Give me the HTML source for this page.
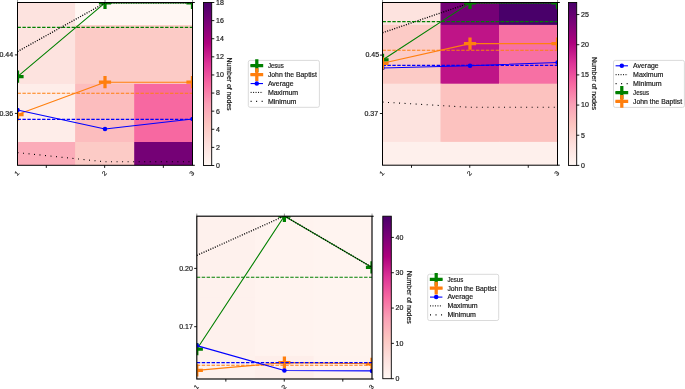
<!DOCTYPE html>
<html><head><meta charset="utf-8"><style>
html,body{margin:0;padding:0;background:#fff;overflow:hidden;}
svg{display:block;will-change:transform;}
text{font-family:"Liberation Sans",sans-serif;stroke:#1a1a1a;stroke-width:0.18px;}
</style></head><body>
<svg width="685" height="389" viewBox="0 0 685 389">
<rect width="685" height="389" fill="#fff"/>
<clipPath id="c0"><rect x="17.50" y="2.50" width="175.00" height="162.80"/></clipPath>
<g clip-path="url(#c0)"><rect x="17.50" y="2.50" width="58.60" height="23.60" fill="#fde3df"/><rect x="75.10" y="2.50" width="60.10" height="23.60" fill="#fff7f3"/><rect x="134.20" y="2.50" width="59.30" height="23.60" fill="#fff7f3"/><rect x="17.50" y="25.10" width="58.60" height="59.80" fill="#fde3df"/><rect x="75.10" y="25.10" width="60.10" height="59.80" fill="#fccbc6"/><rect x="134.20" y="25.10" width="59.30" height="59.80" fill="#fccbc6"/><rect x="17.50" y="83.90" width="58.60" height="59.10" fill="#feede9"/><rect x="75.10" y="83.90" width="60.10" height="59.10" fill="#fcbdbe"/><rect x="134.20" y="83.90" width="59.30" height="59.10" fill="#f768a1"/><rect x="17.50" y="142.00" width="58.60" height="24.30" fill="#fbacb9"/><rect x="75.10" y="142.00" width="60.10" height="24.30" fill="#fccbc6"/><rect x="134.20" y="142.00" width="59.30" height="24.30" fill="#750176"/><polyline points="17.50,76.70 105.00,2.90 192.50,2.90" fill="none" stroke="#008000" stroke-width="1.1" stroke-linecap="butt" stroke-linejoin="round"/><path d="M11.40 76.70H23.60M17.50 70.60V82.80" stroke="#008000" stroke-width="3.25" fill="none" stroke-linecap="butt"/><path d="M98.90 2.90H111.10M105.00 -3.20V9.00" stroke="#008000" stroke-width="3.25" fill="none" stroke-linecap="butt"/><path d="M186.40 2.90H198.60M192.50 -3.20V9.00" stroke="#008000" stroke-width="3.25" fill="none" stroke-linecap="butt"/><line x1="17.50" y1="27.40" x2="192.50" y2="27.40" stroke="#008000" stroke-width="1.1" stroke-dasharray="3.42 1.50"/><polyline points="17.50,114.50 105.00,82.20 192.50,82.20" fill="none" stroke="#ff7f0e" stroke-width="1.1" stroke-linecap="butt" stroke-linejoin="round"/><path d="M11.40 114.50H23.60M17.50 108.40V120.60" stroke="#ff7f0e" stroke-width="3.25" fill="none" stroke-linecap="butt"/><path d="M98.90 82.20H111.10M105.00 76.10V88.30" stroke="#ff7f0e" stroke-width="3.25" fill="none" stroke-linecap="butt"/><path d="M186.40 82.20H198.60M192.50 76.10V88.30" stroke="#ff7f0e" stroke-width="3.25" fill="none" stroke-linecap="butt"/><line x1="17.50" y1="93.30" x2="192.50" y2="93.30" stroke="#ff7f0e" stroke-width="1.1" stroke-dasharray="3.42 1.50"/><polyline points="17.50,110.00 105.00,129.00 192.50,119.00" fill="none" stroke="#0000ff" stroke-width="1.1" stroke-linecap="butt" stroke-linejoin="round"/><circle cx="17.50" cy="110.00" r="2.25" fill="#0000ff"/><circle cx="105.00" cy="129.00" r="2.25" fill="#0000ff"/><circle cx="192.50" cy="119.00" r="2.25" fill="#0000ff"/><line x1="17.50" y1="119.40" x2="192.50" y2="119.40" stroke="#0000ff" stroke-width="1.1" stroke-dasharray="3.42 1.50"/><polyline points="17.50,51.60 105.00,2.90 192.50,2.90" fill="none" stroke="#000" stroke-width="1.3" stroke-dasharray="1.05 1.42" stroke-linecap="butt" stroke-linejoin="round"/><polyline points="17.50,152.60 105.00,161.80 192.50,161.80" fill="none" stroke="#000" stroke-width="1.1" stroke-dasharray="1.0 4.53" stroke-linecap="butt" stroke-linejoin="round"/></g>
<line x1="17.50" y1="-0.10" x2="17.50" y2="2.50" stroke="#888" stroke-width="0.9"/>
<line x1="105.00" y1="-0.10" x2="105.00" y2="2.50" stroke="#888" stroke-width="0.9"/>
<line x1="192.50" y1="-0.10" x2="192.50" y2="2.50" stroke="#888" stroke-width="0.9"/>
<rect x="17.50" y="2.50" width="175.00" height="162.80" fill="none" stroke="#000" stroke-width="1.0"/>
<line x1="192.50" y1="2.50" x2="194.80" y2="2.50" stroke="#000" stroke-width="1.0"/>
<line x1="192.50" y1="165.30" x2="194.80" y2="165.30" stroke="#000" stroke-width="1.0"/>
<line x1="46.30" y1="165.30" x2="46.30" y2="167.90" stroke="#000" stroke-width="0.9"/>
<line x1="104.65" y1="165.30" x2="104.65" y2="167.90" stroke="#000" stroke-width="0.9"/>
<line x1="163.35" y1="165.30" x2="163.35" y2="167.90" stroke="#000" stroke-width="0.9"/>
<text transform="translate(16.70,173.20) rotate(-45)" font-size="6.4" text-anchor="middle" dominant-baseline="central" fill="#1a1a1a" textLength="3.91" lengthAdjust="spacingAndGlyphs">1</text>
<text transform="translate(104.20,173.20) rotate(-45)" font-size="6.4" text-anchor="middle" dominant-baseline="central" fill="#1a1a1a" textLength="3.91" lengthAdjust="spacingAndGlyphs">2</text>
<text transform="translate(191.70,173.20) rotate(-45)" font-size="6.4" text-anchor="middle" dominant-baseline="central" fill="#1a1a1a" textLength="3.91" lengthAdjust="spacingAndGlyphs">3</text>
<line x1="14.90" y1="54.90" x2="17.50" y2="54.90" stroke="#000" stroke-width="0.9"/>
<text x="13.10" y="57.20" font-size="6.4" text-anchor="end" fill="#1a1a1a" textLength="13.69" lengthAdjust="spacingAndGlyphs" >0.44</text>
<line x1="14.90" y1="113.40" x2="17.50" y2="113.40" stroke="#000" stroke-width="0.9"/>
<text x="13.10" y="115.70" font-size="6.4" text-anchor="end" fill="#1a1a1a" textLength="13.69" lengthAdjust="spacingAndGlyphs" >0.36</text>
<linearGradient id="gc0" x1="0" y1="0" x2="0" y2="1"><stop offset="0.0000" stop-color="#49006a"/><stop offset="0.1250" stop-color="#7a0177"/><stop offset="0.2500" stop-color="#ae017e"/><stop offset="0.3750" stop-color="#dd3497"/><stop offset="0.5000" stop-color="#f768a1"/><stop offset="0.6250" stop-color="#fa9fb5"/><stop offset="0.7500" stop-color="#fcc5c0"/><stop offset="0.8750" stop-color="#fde0dd"/><stop offset="1.0000" stop-color="#fff7f3"/></linearGradient>
<rect x="203.50" y="2.50" width="8.20" height="163.00" fill="url(#gc0)" stroke="#000" stroke-width="0.9"/>
<line x1="211.70" y1="165.50" x2="214.30" y2="165.50" stroke="#000" stroke-width="0.9"/>
<text x="216.00" y="167.85" font-size="6.4" text-anchor="start" fill="#1a1a1a" textLength="3.91" lengthAdjust="spacingAndGlyphs" >0</text>
<line x1="211.70" y1="147.39" x2="214.30" y2="147.39" stroke="#000" stroke-width="0.9"/>
<text x="216.00" y="149.74" font-size="6.4" text-anchor="start" fill="#1a1a1a" textLength="3.91" lengthAdjust="spacingAndGlyphs" >2</text>
<line x1="211.70" y1="129.28" x2="214.30" y2="129.28" stroke="#000" stroke-width="0.9"/>
<text x="216.00" y="131.63" font-size="6.4" text-anchor="start" fill="#1a1a1a" textLength="3.91" lengthAdjust="spacingAndGlyphs" >4</text>
<line x1="211.70" y1="111.17" x2="214.30" y2="111.17" stroke="#000" stroke-width="0.9"/>
<text x="216.00" y="113.52" font-size="6.4" text-anchor="start" fill="#1a1a1a" textLength="3.91" lengthAdjust="spacingAndGlyphs" >6</text>
<line x1="211.70" y1="93.06" x2="214.30" y2="93.06" stroke="#000" stroke-width="0.9"/>
<text x="216.00" y="95.41" font-size="6.4" text-anchor="start" fill="#1a1a1a" textLength="3.91" lengthAdjust="spacingAndGlyphs" >8</text>
<line x1="211.70" y1="74.94" x2="214.30" y2="74.94" stroke="#000" stroke-width="0.9"/>
<text x="216.00" y="77.29" font-size="6.4" text-anchor="start" fill="#1a1a1a" textLength="7.83" lengthAdjust="spacingAndGlyphs" >10</text>
<line x1="211.70" y1="56.83" x2="214.30" y2="56.83" stroke="#000" stroke-width="0.9"/>
<text x="216.00" y="59.18" font-size="6.4" text-anchor="start" fill="#1a1a1a" textLength="7.83" lengthAdjust="spacingAndGlyphs" >12</text>
<line x1="211.70" y1="38.72" x2="214.30" y2="38.72" stroke="#000" stroke-width="0.9"/>
<text x="216.00" y="41.07" font-size="6.4" text-anchor="start" fill="#1a1a1a" textLength="7.83" lengthAdjust="spacingAndGlyphs" >14</text>
<line x1="211.70" y1="20.61" x2="214.30" y2="20.61" stroke="#000" stroke-width="0.9"/>
<text x="216.00" y="22.96" font-size="6.4" text-anchor="start" fill="#1a1a1a" textLength="7.83" lengthAdjust="spacingAndGlyphs" >16</text>
<line x1="211.70" y1="2.50" x2="214.30" y2="2.50" stroke="#000" stroke-width="0.9"/>
<text x="216.00" y="4.85" font-size="6.4" text-anchor="start" fill="#1a1a1a" textLength="7.83" lengthAdjust="spacingAndGlyphs" >18</text>
<text transform="translate(227.30,84.00) rotate(90)" font-size="6.4" text-anchor="middle" fill="#1a1a1a" textLength="53.09" lengthAdjust="spacingAndGlyphs">Number of nodes</text>
<rect x="248.30" y="60.40" width="71.10" height="46.90" rx="1.8" fill="#fff" stroke="#d6d6d6" stroke-width="0.9"/>
<line x1="250.60" y1="65.60" x2="263.00" y2="65.60" stroke="#008000" stroke-width="1.1"/>
<path d="M250.40 65.60H263.20M256.80 59.20V72.00" stroke="#008000" stroke-width="3.25" fill="none" stroke-linecap="butt"/>
<line x1="250.60" y1="74.60" x2="263.00" y2="74.60" stroke="#ff7f0e" stroke-width="1.1"/>
<path d="M250.40 74.60H263.20M256.80 68.20V81.00" stroke="#ff7f0e" stroke-width="3.25" fill="none" stroke-linecap="butt"/>
<line x1="250.60" y1="83.55" x2="263.00" y2="83.55" stroke="#0000ff" stroke-width="1.1"/>
<circle cx="256.80" cy="83.55" r="2.25" fill="#0000ff"/>
<line x1="250.60" y1="92.40" x2="263.00" y2="92.40" stroke="#000" stroke-width="1" stroke-dasharray="1.05 1.42"/>
<line x1="250.60" y1="101.30" x2="263.00" y2="101.30" stroke="#000" stroke-width="1.2" stroke-dasharray="1.0 4.53"/>
<text x="267.90" y="67.90" font-size="6.4" text-anchor="start" fill="#1a1a1a" textLength="15.9" lengthAdjust="spacingAndGlyphs" >Jesus</text>
<text x="267.90" y="76.90" font-size="6.4" text-anchor="start" fill="#1a1a1a" textLength="49.0" lengthAdjust="spacingAndGlyphs" >John the Baptist</text>
<text x="267.90" y="85.85" font-size="6.4" text-anchor="start" fill="#1a1a1a" textLength="25.61" lengthAdjust="spacingAndGlyphs" >Average</text>
<text x="267.90" y="94.70" font-size="6.4" text-anchor="start" fill="#1a1a1a" textLength="30.3" lengthAdjust="spacingAndGlyphs" >Maximum</text>
<text x="267.90" y="103.60" font-size="6.4" text-anchor="start" fill="#1a1a1a" textLength="28.5" lengthAdjust="spacingAndGlyphs" >Minimum</text>
<clipPath id="c1"><rect x="382.50" y="2.50" width="175.00" height="162.70"/></clipPath>
<g clip-path="url(#c1)"><rect x="382.50" y="2.50" width="59.00" height="23.40" fill="#fde3df"/><rect x="440.50" y="2.50" width="59.50" height="23.40" fill="#750176"/><rect x="499.00" y="2.50" width="59.50" height="23.40" fill="#49006a"/><rect x="382.50" y="24.90" width="59.00" height="59.80" fill="#fccbc6"/><rect x="440.50" y="24.90" width="59.50" height="59.80" fill="#bf1487"/><rect x="499.00" y="24.90" width="59.50" height="59.80" fill="#f770a4"/><rect x="382.50" y="83.70" width="59.00" height="59.20" fill="#fde3df"/><rect x="440.50" y="83.70" width="59.50" height="59.20" fill="#fcc2bf"/><rect x="499.00" y="83.70" width="59.50" height="59.20" fill="#fcc2bf"/><rect x="382.50" y="141.90" width="59.00" height="24.30" fill="#fef0ec"/><rect x="440.50" y="141.90" width="59.50" height="24.30" fill="#fef0ec"/><rect x="499.00" y="141.90" width="59.50" height="24.30" fill="#fef0ec"/><polyline points="382.50,68.00 470.00,65.70 557.50,62.50" fill="none" stroke="#0000ff" stroke-width="1.1" stroke-linecap="butt" stroke-linejoin="round"/><circle cx="382.50" cy="68.00" r="2.25" fill="#0000ff"/><circle cx="470.00" cy="65.70" r="2.25" fill="#0000ff"/><circle cx="557.50" cy="62.50" r="2.25" fill="#0000ff"/><line x1="382.50" y1="65.40" x2="557.50" y2="65.40" stroke="#0000ff" stroke-width="1.1" stroke-dasharray="3.42 1.50"/><polyline points="382.50,32.80 470.00,2.90 557.50,2.90" fill="none" stroke="#000" stroke-width="1.3" stroke-dasharray="1.05 1.42" stroke-linecap="butt" stroke-linejoin="round"/><polyline points="382.50,102.10 470.00,107.30 557.50,107.30" fill="none" stroke="#000" stroke-width="1.1" stroke-dasharray="1.0 4.53" stroke-linecap="butt" stroke-linejoin="round"/><polyline points="382.50,59.95 470.00,2.90 557.50,2.90" fill="none" stroke="#008000" stroke-width="1.1" stroke-linecap="butt" stroke-linejoin="round"/><path d="M376.40 59.95H388.60M382.50 53.85V66.05" stroke="#008000" stroke-width="3.25" fill="none" stroke-linecap="butt"/><path d="M463.90 2.90H476.10M470.00 -3.20V9.00" stroke="#008000" stroke-width="3.25" fill="none" stroke-linecap="butt"/><path d="M551.40 2.90H563.60M557.50 -3.20V9.00" stroke="#008000" stroke-width="3.25" fill="none" stroke-linecap="butt"/><line x1="382.50" y1="21.60" x2="557.50" y2="21.60" stroke="#008000" stroke-width="1.1" stroke-dasharray="3.42 1.50"/><polyline points="382.50,63.30 470.00,43.60 557.50,43.60" fill="none" stroke="#ff7f0e" stroke-width="1.1" stroke-linecap="butt" stroke-linejoin="round"/><path d="M376.40 63.30H388.60M382.50 57.20V69.40" stroke="#ff7f0e" stroke-width="3.25" fill="none" stroke-linecap="butt"/><path d="M463.90 43.60H476.10M470.00 37.50V49.70" stroke="#ff7f0e" stroke-width="3.25" fill="none" stroke-linecap="butt"/><path d="M551.40 43.60H563.60M557.50 37.50V49.70" stroke="#ff7f0e" stroke-width="3.25" fill="none" stroke-linecap="butt"/><line x1="382.50" y1="50.30" x2="557.50" y2="50.30" stroke="#ff7f0e" stroke-width="1.1" stroke-dasharray="3.42 1.50"/></g>
<line x1="382.50" y1="-0.10" x2="382.50" y2="2.50" stroke="#888" stroke-width="0.9"/>
<line x1="470.00" y1="-0.10" x2="470.00" y2="2.50" stroke="#888" stroke-width="0.9"/>
<line x1="557.50" y1="-0.10" x2="557.50" y2="2.50" stroke="#888" stroke-width="0.9"/>
<rect x="382.50" y="2.50" width="175.00" height="162.70" fill="none" stroke="#000" stroke-width="1.0"/>
<line x1="557.50" y1="2.50" x2="559.80" y2="2.50" stroke="#000" stroke-width="1.0"/>
<line x1="557.50" y1="165.20" x2="559.80" y2="165.20" stroke="#000" stroke-width="1.0"/>
<line x1="411.50" y1="165.20" x2="411.50" y2="167.80" stroke="#000" stroke-width="0.9"/>
<line x1="469.75" y1="165.20" x2="469.75" y2="167.80" stroke="#000" stroke-width="0.9"/>
<line x1="528.25" y1="165.20" x2="528.25" y2="167.80" stroke="#000" stroke-width="0.9"/>
<text transform="translate(381.70,173.10) rotate(-45)" font-size="6.4" text-anchor="middle" dominant-baseline="central" fill="#1a1a1a" textLength="3.91" lengthAdjust="spacingAndGlyphs">1</text>
<text transform="translate(469.20,173.10) rotate(-45)" font-size="6.4" text-anchor="middle" dominant-baseline="central" fill="#1a1a1a" textLength="3.91" lengthAdjust="spacingAndGlyphs">2</text>
<text transform="translate(556.70,173.10) rotate(-45)" font-size="6.4" text-anchor="middle" dominant-baseline="central" fill="#1a1a1a" textLength="3.91" lengthAdjust="spacingAndGlyphs">3</text>
<line x1="379.90" y1="55.10" x2="382.50" y2="55.10" stroke="#000" stroke-width="0.9"/>
<text x="379.10" y="57.40" font-size="6.4" text-anchor="end" fill="#1a1a1a" textLength="13.69" lengthAdjust="spacingAndGlyphs" >0.45</text>
<line x1="379.90" y1="113.50" x2="382.50" y2="113.50" stroke="#000" stroke-width="0.9"/>
<text x="378.10" y="115.80" font-size="6.4" text-anchor="end" fill="#1a1a1a" textLength="13.69" lengthAdjust="spacingAndGlyphs" >0.37</text>
<linearGradient id="gc1" x1="0" y1="0" x2="0" y2="1"><stop offset="0.0000" stop-color="#49006a"/><stop offset="0.1250" stop-color="#7a0177"/><stop offset="0.2500" stop-color="#ae017e"/><stop offset="0.3750" stop-color="#dd3497"/><stop offset="0.5000" stop-color="#f768a1"/><stop offset="0.6250" stop-color="#fa9fb5"/><stop offset="0.7500" stop-color="#fcc5c0"/><stop offset="0.8750" stop-color="#fde0dd"/><stop offset="1.0000" stop-color="#fff7f3"/></linearGradient>
<rect x="568.50" y="2.50" width="8.20" height="162.90" fill="url(#gc1)" stroke="#000" stroke-width="0.9"/>
<line x1="576.70" y1="165.40" x2="579.30" y2="165.40" stroke="#000" stroke-width="0.9"/>
<text x="581.00" y="167.75" font-size="6.4" text-anchor="start" fill="#1a1a1a" textLength="3.91" lengthAdjust="spacingAndGlyphs" >0</text>
<line x1="576.70" y1="135.23" x2="579.30" y2="135.23" stroke="#000" stroke-width="0.9"/>
<text x="581.00" y="137.58" font-size="6.4" text-anchor="start" fill="#1a1a1a" textLength="3.91" lengthAdjust="spacingAndGlyphs" >5</text>
<line x1="576.70" y1="105.07" x2="579.30" y2="105.07" stroke="#000" stroke-width="0.9"/>
<text x="581.00" y="107.42" font-size="6.4" text-anchor="start" fill="#1a1a1a" textLength="7.83" lengthAdjust="spacingAndGlyphs" >10</text>
<line x1="576.70" y1="74.90" x2="579.30" y2="74.90" stroke="#000" stroke-width="0.9"/>
<text x="581.00" y="77.25" font-size="6.4" text-anchor="start" fill="#1a1a1a" textLength="7.83" lengthAdjust="spacingAndGlyphs" >15</text>
<line x1="576.70" y1="44.73" x2="579.30" y2="44.73" stroke="#000" stroke-width="0.9"/>
<text x="581.00" y="47.08" font-size="6.4" text-anchor="start" fill="#1a1a1a" textLength="7.83" lengthAdjust="spacingAndGlyphs" >20</text>
<line x1="576.70" y1="14.57" x2="579.30" y2="14.57" stroke="#000" stroke-width="0.9"/>
<text x="581.00" y="16.92" font-size="6.4" text-anchor="start" fill="#1a1a1a" textLength="7.83" lengthAdjust="spacingAndGlyphs" >25</text>
<text transform="translate(592.20,83.50) rotate(90)" font-size="6.4" text-anchor="middle" fill="#1a1a1a" textLength="53.09" lengthAdjust="spacingAndGlyphs">Number of nodes</text>
<rect x="613.50" y="60.40" width="70.90" height="47.00" rx="1.8" fill="#fff" stroke="#d6d6d6" stroke-width="0.9"/>
<line x1="615.60" y1="65.80" x2="628.00" y2="65.80" stroke="#0000ff" stroke-width="1.1"/>
<circle cx="621.80" cy="65.80" r="2.25" fill="#0000ff"/>
<line x1="615.60" y1="74.70" x2="628.00" y2="74.70" stroke="#000" stroke-width="1" stroke-dasharray="1.05 1.42"/>
<line x1="615.60" y1="83.60" x2="628.00" y2="83.60" stroke="#000" stroke-width="1.2" stroke-dasharray="1.0 4.53"/>
<line x1="615.60" y1="92.50" x2="628.00" y2="92.50" stroke="#008000" stroke-width="1.1"/>
<path d="M615.40 92.50H628.20M621.80 86.10V98.90" stroke="#008000" stroke-width="3.25" fill="none" stroke-linecap="butt"/>
<line x1="615.60" y1="101.40" x2="628.00" y2="101.40" stroke="#ff7f0e" stroke-width="1.1"/>
<path d="M615.40 101.40H628.20M621.80 95.00V107.80" stroke="#ff7f0e" stroke-width="3.25" fill="none" stroke-linecap="butt"/>
<text x="633.10" y="68.10" font-size="6.4" text-anchor="start" fill="#1a1a1a" textLength="25.61" lengthAdjust="spacingAndGlyphs" >Average</text>
<text x="633.10" y="77.00" font-size="6.4" text-anchor="start" fill="#1a1a1a" textLength="30.3" lengthAdjust="spacingAndGlyphs" >Maximum</text>
<text x="633.10" y="85.90" font-size="6.4" text-anchor="start" fill="#1a1a1a" textLength="28.5" lengthAdjust="spacingAndGlyphs" >Minimum</text>
<text x="633.10" y="94.80" font-size="6.4" text-anchor="start" fill="#1a1a1a" textLength="15.9" lengthAdjust="spacingAndGlyphs" >Jesus</text>
<text x="633.10" y="103.70" font-size="6.4" text-anchor="start" fill="#1a1a1a" textLength="49.0" lengthAdjust="spacingAndGlyphs" >John the Baptist</text>
<clipPath id="c2"><rect x="196.80" y="216.20" width="175.20" height="162.80"/></clipPath>
<g clip-path="url(#c2)"><rect x="196.80" y="216.20" width="59.10" height="24.10" fill="#fef1ed"/><rect x="254.90" y="216.20" width="59.70" height="24.10" fill="#fff3ef"/><rect x="313.60" y="216.20" width="59.40" height="24.10" fill="#fff4f0"/><rect x="196.80" y="239.30" width="59.10" height="59.30" fill="#fef1ed"/><rect x="254.90" y="239.30" width="59.70" height="59.30" fill="#fff3ef"/><rect x="313.60" y="239.30" width="59.40" height="59.30" fill="#fff4f0"/><rect x="196.80" y="297.60" width="59.10" height="59.30" fill="#fef1ed"/><rect x="254.90" y="297.60" width="59.70" height="59.30" fill="#fff3ef"/><rect x="313.60" y="297.60" width="59.40" height="59.30" fill="#fff4f0"/><rect x="196.80" y="355.90" width="59.10" height="24.10" fill="#fef1ed"/><rect x="254.90" y="355.90" width="59.70" height="24.10" fill="#feeeea"/><rect x="313.60" y="355.90" width="59.40" height="24.10" fill="#fff3ef"/><polyline points="196.80,349.20 284.40,216.00 372.00,267.40" fill="none" stroke="#008000" stroke-width="1.1" stroke-linecap="butt" stroke-linejoin="round"/><path d="M190.70 349.20H202.90M196.80 343.10V355.30" stroke="#008000" stroke-width="3.25" fill="none" stroke-linecap="butt"/><path d="M278.30 216.00H290.50M284.40 209.90V222.10" stroke="#008000" stroke-width="3.25" fill="none" stroke-linecap="butt"/><path d="M365.90 267.40H378.10M372.00 261.30V273.50" stroke="#008000" stroke-width="3.25" fill="none" stroke-linecap="butt"/><line x1="196.80" y1="277.30" x2="372.00" y2="277.30" stroke="#008000" stroke-width="1.1" stroke-dasharray="3.42 1.50"/><polyline points="196.80,370.40 284.40,362.60 372.00,363.80" fill="none" stroke="#ff7f0e" stroke-width="1.1" stroke-linecap="butt" stroke-linejoin="round"/><path d="M190.70 370.40H202.90M196.80 364.30V376.50" stroke="#ff7f0e" stroke-width="3.25" fill="none" stroke-linecap="butt"/><path d="M278.30 362.60H290.50M284.40 356.50V368.70" stroke="#ff7f0e" stroke-width="3.25" fill="none" stroke-linecap="butt"/><path d="M365.90 363.80H378.10M372.00 357.70V369.90" stroke="#ff7f0e" stroke-width="3.25" fill="none" stroke-linecap="butt"/><line x1="196.80" y1="365.30" x2="372.00" y2="365.30" stroke="#ff7f0e" stroke-width="1.1" stroke-dasharray="3.42 1.50"/><polyline points="196.80,345.60 284.40,370.50 372.00,370.90" fill="none" stroke="#0000ff" stroke-width="1.1" stroke-linecap="butt" stroke-linejoin="round"/><circle cx="196.80" cy="345.60" r="2.25" fill="#0000ff"/><circle cx="284.40" cy="370.50" r="2.25" fill="#0000ff"/><circle cx="372.00" cy="370.90" r="2.25" fill="#0000ff"/><line x1="196.80" y1="362.60" x2="372.00" y2="362.60" stroke="#0000ff" stroke-width="1.1" stroke-dasharray="3.42 1.50"/><polyline points="196.80,255.40 284.40,216.00 372.00,267.40" fill="none" stroke="#000" stroke-width="1.3" stroke-dasharray="1.05 1.42" stroke-linecap="butt" stroke-linejoin="round"/></g>
<line x1="196.80" y1="213.60" x2="196.80" y2="216.20" stroke="#888" stroke-width="0.9"/>
<line x1="284.40" y1="213.60" x2="284.40" y2="216.20" stroke="#888" stroke-width="0.9"/>
<line x1="372.00" y1="213.60" x2="372.00" y2="216.20" stroke="#888" stroke-width="0.9"/>
<rect x="196.80" y="216.20" width="175.20" height="162.80" fill="none" stroke="#000" stroke-width="1.15"/>
<line x1="372.00" y1="216.20" x2="373.70" y2="216.20" stroke="#000" stroke-width="1.15"/>
<line x1="372.00" y1="379.00" x2="373.70" y2="379.00" stroke="#000" stroke-width="1.15"/>
<line x1="225.85" y1="379.00" x2="225.85" y2="381.60" stroke="#000" stroke-width="0.9"/>
<line x1="284.25" y1="379.00" x2="284.25" y2="381.60" stroke="#000" stroke-width="0.9"/>
<line x1="342.80" y1="379.00" x2="342.80" y2="381.60" stroke="#000" stroke-width="0.9"/>
<text transform="translate(196.00,386.90) rotate(-45)" font-size="6.4" text-anchor="middle" dominant-baseline="central" fill="#1a1a1a" textLength="3.91" lengthAdjust="spacingAndGlyphs">1</text>
<text transform="translate(283.60,386.90) rotate(-45)" font-size="6.4" text-anchor="middle" dominant-baseline="central" fill="#1a1a1a" textLength="3.91" lengthAdjust="spacingAndGlyphs">2</text>
<text transform="translate(371.20,386.90) rotate(-45)" font-size="6.4" text-anchor="middle" dominant-baseline="central" fill="#1a1a1a" textLength="3.91" lengthAdjust="spacingAndGlyphs">3</text>
<line x1="194.20" y1="268.40" x2="196.80" y2="268.40" stroke="#000" stroke-width="0.9"/>
<text x="192.90" y="270.70" font-size="6.4" text-anchor="end" fill="#1a1a1a" textLength="13.69" lengthAdjust="spacingAndGlyphs" >0.20</text>
<line x1="194.20" y1="326.70" x2="196.80" y2="326.70" stroke="#000" stroke-width="0.9"/>
<text x="192.90" y="329.00" font-size="6.4" text-anchor="end" fill="#1a1a1a" textLength="13.69" lengthAdjust="spacingAndGlyphs" >0.17</text>
<linearGradient id="gc2" x1="0" y1="0" x2="0" y2="1"><stop offset="0.0000" stop-color="#49006a"/><stop offset="0.1250" stop-color="#7a0177"/><stop offset="0.2500" stop-color="#ae017e"/><stop offset="0.3750" stop-color="#dd3497"/><stop offset="0.5000" stop-color="#f768a1"/><stop offset="0.6250" stop-color="#fa9fb5"/><stop offset="0.7500" stop-color="#fcc5c0"/><stop offset="0.8750" stop-color="#fde0dd"/><stop offset="1.0000" stop-color="#fff7f3"/></linearGradient>
<rect x="382.80" y="216.20" width="8.50" height="162.50" fill="url(#gc2)" stroke="#000" stroke-width="0.9"/>
<line x1="391.30" y1="378.70" x2="393.90" y2="378.70" stroke="#000" stroke-width="0.9"/>
<text x="395.60" y="381.05" font-size="6.4" text-anchor="start" fill="#1a1a1a" textLength="3.91" lengthAdjust="spacingAndGlyphs" >0</text>
<line x1="391.30" y1="343.37" x2="393.90" y2="343.37" stroke="#000" stroke-width="0.9"/>
<text x="395.60" y="345.72" font-size="6.4" text-anchor="start" fill="#1a1a1a" textLength="7.83" lengthAdjust="spacingAndGlyphs" >10</text>
<line x1="391.30" y1="308.05" x2="393.90" y2="308.05" stroke="#000" stroke-width="0.9"/>
<text x="395.60" y="310.40" font-size="6.4" text-anchor="start" fill="#1a1a1a" textLength="7.83" lengthAdjust="spacingAndGlyphs" >20</text>
<line x1="391.30" y1="272.72" x2="393.90" y2="272.72" stroke="#000" stroke-width="0.9"/>
<text x="395.60" y="275.07" font-size="6.4" text-anchor="start" fill="#1a1a1a" textLength="7.83" lengthAdjust="spacingAndGlyphs" >30</text>
<line x1="391.30" y1="237.40" x2="393.90" y2="237.40" stroke="#000" stroke-width="0.9"/>
<text x="395.60" y="239.75" font-size="6.4" text-anchor="start" fill="#1a1a1a" textLength="7.83" lengthAdjust="spacingAndGlyphs" >40</text>
<text transform="translate(407.10,297.20) rotate(90)" font-size="6.4" text-anchor="middle" fill="#1a1a1a" textLength="53.09" lengthAdjust="spacingAndGlyphs">Number of nodes</text>
<rect x="427.70" y="274.30" width="71.00" height="46.20" rx="1.8" fill="#fff" stroke="#d6d6d6" stroke-width="0.9"/>
<line x1="430.00" y1="279.30" x2="442.40" y2="279.30" stroke="#008000" stroke-width="1.1"/>
<path d="M429.80 279.30H442.60M436.20 272.90V285.70" stroke="#008000" stroke-width="3.25" fill="none" stroke-linecap="butt"/>
<line x1="430.00" y1="288.20" x2="442.40" y2="288.20" stroke="#ff7f0e" stroke-width="1.1"/>
<path d="M429.80 288.20H442.60M436.20 281.80V294.60" stroke="#ff7f0e" stroke-width="3.25" fill="none" stroke-linecap="butt"/>
<line x1="430.00" y1="297.10" x2="442.40" y2="297.10" stroke="#0000ff" stroke-width="1.1"/>
<circle cx="436.20" cy="297.10" r="2.25" fill="#0000ff"/>
<line x1="430.00" y1="305.90" x2="442.40" y2="305.90" stroke="#000" stroke-width="1" stroke-dasharray="1.05 1.42"/>
<line x1="430.00" y1="314.80" x2="442.40" y2="314.80" stroke="#000" stroke-width="1.2" stroke-dasharray="1.0 4.53"/>
<text x="447.40" y="281.60" font-size="6.4" text-anchor="start" fill="#1a1a1a" textLength="15.9" lengthAdjust="spacingAndGlyphs" >Jesus</text>
<text x="447.40" y="290.50" font-size="6.4" text-anchor="start" fill="#1a1a1a" textLength="49.0" lengthAdjust="spacingAndGlyphs" >John the Baptist</text>
<text x="447.40" y="299.40" font-size="6.4" text-anchor="start" fill="#1a1a1a" textLength="25.61" lengthAdjust="spacingAndGlyphs" >Average</text>
<text x="447.40" y="308.20" font-size="6.4" text-anchor="start" fill="#1a1a1a" textLength="30.3" lengthAdjust="spacingAndGlyphs" >Maximum</text>
<text x="447.40" y="317.10" font-size="6.4" text-anchor="start" fill="#1a1a1a" textLength="28.5" lengthAdjust="spacingAndGlyphs" >Minimum</text>
</svg>
</body></html>
